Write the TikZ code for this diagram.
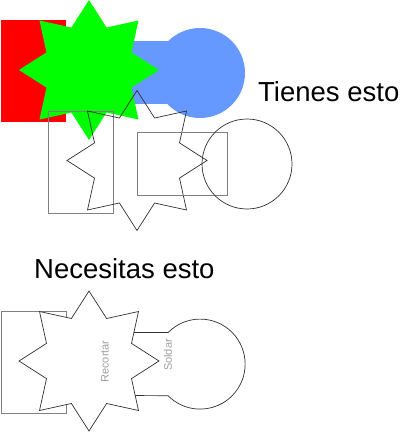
\documentclass[tikz,border=0pt]{standalone}
\usepackage{fontspec}
\setmainfont{Liberation Sans}
\definecolor{cred}{HTML}{FF0000}
\definecolor{cgreen}{HTML}{00FF00}
\definecolor{cblue}{HTML}{6699FF}
\definecolor{cgrayline}{HTML}{808080}
\definecolor{cdark}{HTML}{303030}
\definecolor{clabel}{HTML}{A0A0A0}
\newcommand\starpathat[2]{plot[samples at={0,...,15}, variable=\i] ({#1+(mod(\i,2)==0?70:46)*cos(90+\i*22.5)}, {#2+(mod(\i,2)==0?70:46)*sin(90+\i*22.5)}) -- cycle}
\tikzset{
  x=1pt, y=1pt,
  grayline/.style={draw=cgrayline, line width=0.9pt},
  darkline/.style={draw=cdark, line width=0.7pt},
  bigtext/.style={font=\fontsize{27.5}{33}\selectfont, inner sep=0pt, anchor=base west},
  sidelabel/.style={font=\fontsize{11}{13}\selectfont, text=clabel, inner sep=0pt, rotate=90}
}
\begin{document}
\begin{tikzpicture}
\useasboundingbox (0,0) rectangle (400,-433);
% top coloured shapes
\fill[cred] (1,-20) rectangle (66,-122);
\fill[cblue] (90,-41) rectangle (182,-104);
\fill[cblue] (200,-73) circle[radius=45];
\fill[cgreen] \starpathat{89}{-70};
% middle outlines
\draw[grayline] (48,-111) rectangle (113,-213);
\draw[darkline] \starpathat{137}{-160.5};
\draw[grayline] (137,-132) rectangle (227,-195);
\draw[darkline] (247,-164) circle[radius=45];
% texts
\node[bigtext] (tienes) at (258,-102) {Tienes esto};
\node[bigtext] (necesitas) at (34,-278) {Necesitas esto};
% bottom
\draw[grayline] (1,-311) rectangle (66,-413);
\draw[darkline] (120,-332.5) -- (168.1,-332.5) arc[start angle=135.4, end angle=-135.4, radius=45] -- (120,-395.5);
\draw[darkline, fill=white] \starpathat{89}{-361};
\node[sidelabel] (recortar) at (105,-361.5) {Recortar};
\node[sidelabel] (soldar) at (168,-355) {Soldar};
\end{tikzpicture}
\end{document}
